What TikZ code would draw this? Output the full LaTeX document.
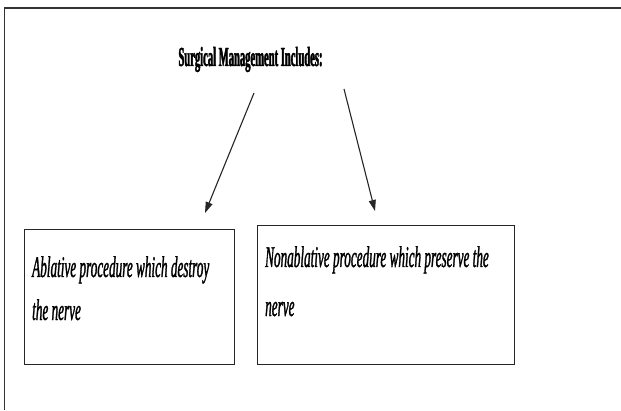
\documentclass[tikz,border=0pt]{standalone}
\usepackage{fontspec}
\setmainfont{Liberation Serif}
\newfontfamily\titlefont[FakeStretch=0.385,FakeBold=1.5]{Liberation Serif}
\newfontfamily\boxfont[FakeStretch=0.44,FakeBold=1]{Liberation Serif}
\usetikzlibrary{arrows.meta}
\begin{document}
\begin{tikzpicture}[x=1pt,y=1pt,
  frame/.style={draw=black!80, line width=1.3pt},
  boxstyle/.style={draw=black!85, line width=1.3pt, rectangle, inner sep=0pt},
  boxtext/.style={anchor=base west, inner sep=0pt, font=\boxfont\itshape\fontsize{30}{34}\selectfont},
  conn/.style={draw=black!85, line width=1.1pt, -{Triangle[length=11pt,width=7pt]}}]
\useasboundingbox (0,0) rectangle (621,410);
\fill[white] (0,0) rectangle (621,410);
% outer frame (open at right and bottom)
\coordinate (fb) at (4.5,0);
\coordinate (ftl) at (4.5,402);
\coordinate (fr) at (621,402);
\draw[frame] (fb) -- (ftl) -- (fr);
% title
\node[anchor=base, inner sep=0pt, font=\titlefont\bfseries\fontsize{27.5}{30}\selectfont] (title) at (250.5,344) {Surgical Management Includes:};
% boxes
\node[boxstyle, minimum width=210pt, minimum height=135pt, anchor=north west] (left) at (24,181) {};
\node[boxstyle, minimum width=257pt, minimum height=139pt, anchor=north west] (right) at (257,185) {};
\node[boxtext] (lt1) at (32,133) {Ablative procedure which destroy};
\node[boxtext] (lt2) at (32,90) {the nerve};
\node[boxtext] (rt1) at (265,143) {Nonablative procedure which preserve the};
\node[boxtext] (rt2) at (265,94) {nerve};
% arrows
\coordinate (a1s) at (254,317);
\coordinate (a1e) at (205,197);
\coordinate (a2s) at (344,321);
\coordinate (a2e) at (375,199);
\draw[conn] (a1s) -- (a1e);
\draw[conn] (a2s) -- (a2e);
\end{tikzpicture}
\end{document}
